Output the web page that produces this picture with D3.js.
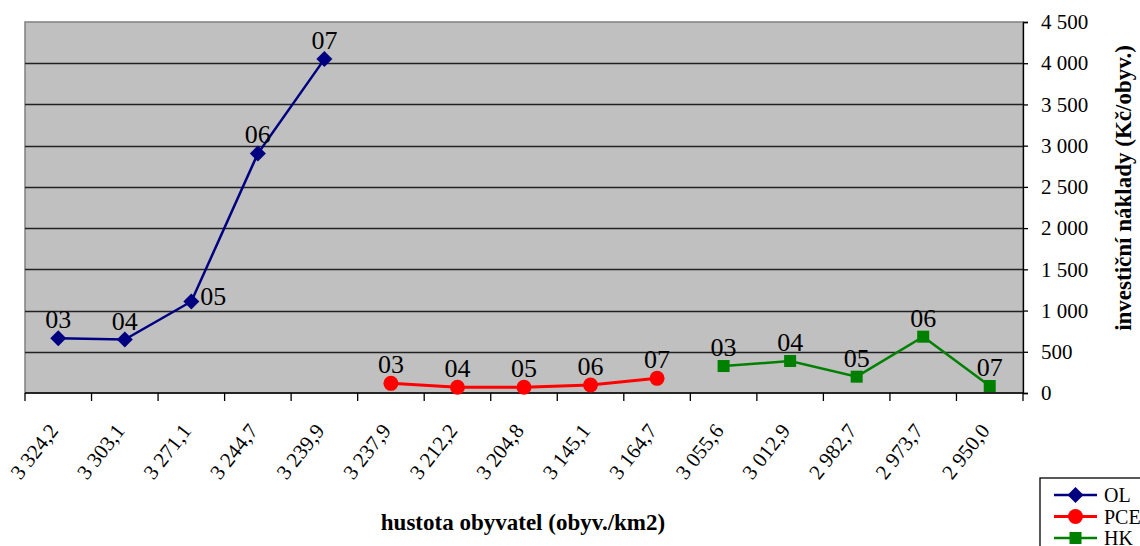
<!DOCTYPE html>
<html><head><meta charset="utf-8">
<script src="https://cdn.jsdelivr.net/npm/d3@7"></script>
<style>body{margin:0;background:#fff}svg{display:block}</style>
</head><body><svg id="c" width="1140" height="546" font-family="'Liberation Serif', 'DejaVu Serif', serif"></svg>
<script>
const xLabels = ["3 324,2","3 303,1","3 271,1","3 244,7","3 239,9","3 237,9","3 212,2","3 204,8","3 145,1","3 164,7","3 055,6","3 012,9","2 982,7","2 973,7","2 950,0"];
const pointLabels = ["03","04","05","06","07"];
const olValues  = [663, 648, 1110, 2905, 4050, null, null, null, null, null, null, null, null, null, null];
const pceValues = [null, null, null, null, null, 117, 69, 69, 97, 178, null, null, null, null, null];
const hkValues  = [null, null, null, null, null, null, null, null, null, null, 327, 388, 198, 683, 85];
const yTicks = [0,500,1000,1500,2000,2500,3000,3500,4000,4500];
const seriesNames = ["OL","PCE","HK"];

const FONT = "Liberation Serif";
const series = [
  {name: seriesNames[0], values: olValues, color: "#000080", marker: "diamond", width: 2.5},
  {name: seriesNames[1], values: pceValues, color: "#ff0000", marker: "circle", width: 3},
  {name: seriesNames[2], values: hkValues, color: "#008000", marker: "square", width: 2.5}
];

const svg = d3.select("#c");
const L = 25, R = 1023, T = 22, B = 393;
const x = d3.scaleBand().domain(d3.range(xLabels.length)).range([L, R]);
const y = d3.scaleLinear().domain([0, 4500]).range([B, T]);

svg.append("rect").attr("x", L).attr("y", T).attr("width", R - L).attr("height", B - T)
  .attr("fill", "#c0c0c0").attr("stroke", "#808080").attr("stroke-width", 1.5);

svg.append("g").selectAll("line").data(yTicks.filter(v => v > 0 && v < 4500)).join("line")
  .attr("x1", L).attr("x2", R).attr("y1", d => Math.round(y(d)) + 0.5).attr("y2", d => Math.round(y(d)) + 0.5)
  .attr("stroke", "#222").attr("stroke-width", 1.3);

const fmt = v => d3.format(",")(v).replace(/,/g, " ");
const ya = svg.append("g").attr("transform", `translate(${R},0)`)
  .call(d3.axisRight(y).tickValues(yTicks).tickFormat(fmt).tickSize(5).tickPadding(13))
  .attr("font-family", FONT).attr("font-size", 21);
ya.select(".domain").attr("stroke", "#000").attr("stroke-width", 1.3);
ya.selectAll(".tick line").attr("stroke", "#000").attr("stroke-width", 1.3);
ya.selectAll("text").attr("fill", "#000");

const xa = svg.append("g").attr("transform", `translate(0,${B})`);
xa.append("line").attr("x1", L).attr("x2", R).attr("y1", 0).attr("y2", 0).attr("stroke", "#000").attr("stroke-width", 1.5);
const bounds = d3.range(xLabels.length + 1).map(i => i < xLabels.length ? x(i) : R);
xa.selectAll("line.t").data(bounds).join("line").attr("class", "t")
  .attr("x1", d => d).attr("x2", d => d).attr("y1", 0).attr("y2", 8).attr("stroke", "#000").attr("stroke-width", 1.3);
xa.selectAll("text").data(xLabels).join("text")
  .attr("transform", (d, i) => `translate(${x(i) + x.bandwidth() / 2 + 1},${38}) rotate(-52)`)
  .attr("text-anchor", "end").attr("font-family", FONT).attr("font-size", 21).attr("fill", "#000").text(d => d);

function drawMarker(g, type, cx, cy, color) {
  if (type === "diamond") {
    g.append("path").attr("d", `M${cx},${cy - 8}L${cx + 8},${cy}L${cx},${cy + 8}L${cx - 8},${cy}Z`).attr("fill", color);
  } else if (type === "circle") {
    g.append("circle").attr("cx", cx).attr("cy", cy).attr("r", 7.5).attr("fill", color);
  } else {
    g.append("rect").attr("x", cx - 6).attr("y", cy - 6).attr("width", 12).attr("height", 12).attr("fill", color);
  }
}

series.forEach(s => {
  const pts = s.values.map((v, i) => ({i, v})).filter(d => d.v != null);
  const line = d3.line().x(d => x(d.i) + x.bandwidth() / 2).y(d => y(d.v));
  svg.append("path").datum(pts).attr("d", line).attr("fill", "none").attr("stroke", s.color).attr("stroke-width", s.width);
  const g = svg.append("g");
  pts.forEach((d, k) => {
    const cx = x(d.i) + x.bandwidth() / 2, cy = y(d.v);
    drawMarker(g, s.marker, cx, cy, s.color);
    let tx = cx, ty = cy - 10, anchor = "middle";
    if (s.name === "OL" && k === 2) { tx = cx + 9; ty = cy + 4; anchor = "start"; }
    svg.append("text").attr("x", tx).attr("y", ty).attr("text-anchor", anchor)
      .attr("font-family", FONT).attr("font-size", 26).attr("fill", "#000").text(pointLabels[k]);
  });
});

svg.append("text").attr("x", 523).attr("y", 530).attr("text-anchor", "middle")
  .attr("font-family", FONT).attr("font-size", 23).attr("font-weight", "bold").attr("fill", "#000").text("hustota obyvatel (obyv./km2)");
svg.append("text").attr("transform", "translate(1131,188) rotate(-90)").attr("text-anchor", "middle")
  .attr("font-family", FONT).attr("font-size", 23).attr("font-weight", "bold").attr("fill", "#000").text("investiční náklady (Kč/obyv.)");

const lg = svg.append("g");
lg.append("rect").attr("x", 1040).attr("y", 478).attr("width", 120).attr("height", 80).attr("fill", "#fff").attr("stroke", "#000").attr("stroke-width", 1.3);
series.forEach((s, k) => {
  const ly = 495 + k * 21.5;
  lg.append("line").attr("x1", 1054).attr("x2", 1097).attr("y1", ly).attr("y2", ly).attr("stroke", s.color).attr("stroke-width", s.width);
  drawMarker(lg, s.marker, 1075.5, ly, s.color);
  lg.append("text").attr("x", 1104).attr("y", ly + 7).attr("font-family", FONT).attr("font-size", 20).attr("fill", "#000").text(s.name);
});
</script></body></html>
